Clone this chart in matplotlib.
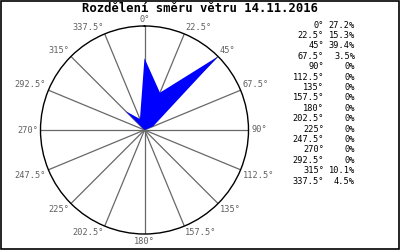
import numpy as np
import matplotlib
matplotlib.use('Agg')
import matplotlib.pyplot as plt
from matplotlib.patches import Rectangle

# Wind direction data (degrees) and share of time (%)
directions = [0, 22.5, 45, 67.5, 90, 112.5, 135, 157.5,
              180, 202.5, 225, 247.5, 270, 292.5, 315, 337.5]
shares = [27.2, 15.3, 39.4, 3.5, 0, 0, 0, 0,
          0, 0, 0, 0, 0, 0, 10.1, 4.5]
title = 'Rozdělení směru větru 14.11.2016'


def fmt_deg(d):
    return f'{d:g}°'


def fmt_pct(p):
    return f'{p:g}%' if p != 0 else '0%'


fig = plt.figure(figsize=(4, 2.5), dpi=100, facecolor='white')
mono = 'DejaVu Sans Mono'

# polar plot area
ax = fig.add_axes([0.10125, 0.064, 0.52, 0.832], projection='polar')
ax.set_theta_zero_location('N')
ax.set_theta_direction(-1)
rmax = max(shares)
ax.set_ylim(0, rmax)
ax.grid(False)
ax.set_xticks([])
ax.set_yticks([])
ax.spines['polar'].set_color('black')
ax.spines['polar'].set_linewidth(1.0)

theta = np.radians(directions)

# spokes
for t in theta:
    ax.plot([t, t], [0, rmax], color='#686868', lw=0.9, zorder=1)

# filled wind rose polygon
ax.fill(np.append(theta, theta[0]), shares + [shares[0]],
        color='#0000ff', lw=0, zorder=2)

# direction labels around the circle
for d, t in zip(directions, theta):
    if d == 0:
        ha, va = 'center', 'bottom'
    elif d == 180:
        ha, va = 'center', 'top'
    elif d == 90:
        ha, va = 'left', 'center'
    elif d == 270:
        ha, va = 'right', 'center'
    else:
        ha = 'left' if d < 180 else 'right'
        va = 'bottom' if (d < 90 or d > 270) else 'top'
    off = (1.8 * np.sin(t), 1.8 * np.cos(t))
    ax.annotate(fmt_deg(d), xy=(t, rmax), xytext=off, textcoords='offset points',
                ha=ha, va=va, fontsize=6.2, family=mono, color='#606060',
                annotation_clip=False)

# title
fig.text(0.5, 0.964, title, ha='center', va='center', fontsize=8.8,
         family=mono, weight='bold')

# table at right
for i, (d, p) in enumerate(zip(directions, shares)):
    y = 1 - (25 + i * 10.4) / 250
    fig.text(324 / 400, y, fmt_deg(d), ha='right', va='center',
             fontsize=6.2, family=mono, color='black')
    fig.text(355 / 400, y, fmt_pct(p), ha='right', va='center',
             fontsize=6.2, family=mono, color='black')

# border
fig.patches.append(Rectangle((0.002, 0.003), 0.995, 0.993, transform=fig.transFigure,
                             fill=False, edgecolor='black', lw=1.2))

fig.savefig('out.png', dpi=100, facecolor='white')
